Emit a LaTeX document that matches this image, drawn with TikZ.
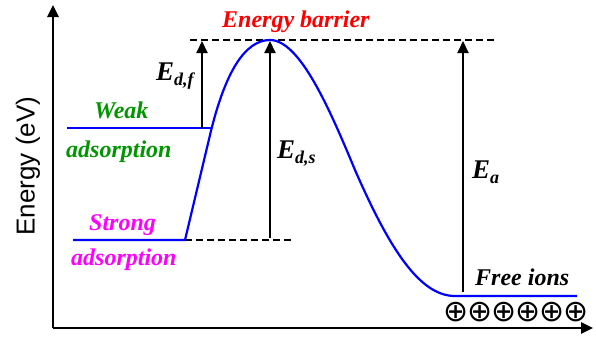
\documentclass[tikz,border=0pt]{standalone}
\usepackage{fontspec}
\setmainfont{Liberation Serif}
\newfontfamily\arialfont{Liberation Sans}
\newfontfamily\symfont{DejaVu Sans}
\usetikzlibrary{arrows.meta}

\definecolor{curveblue}{RGB}{0,0,255}
\definecolor{weakgreen}{RGB}{0,150,0}
\definecolor{strongmag}{RGB}{255,0,255}
\definecolor{barred}{RGB}{255,0,0}

\newcommand\Esub[1]{{\fontsize{27bp}{27bp}\selectfont E}\raisebox{-5bp}{\fontsize{18bp}{18bp}\selectfont #1}}

\begin{document}
\begin{tikzpicture}[x=1bp, y=-1bp, >={Triangle[length=12bp,width=11bp]},
  lab/.style={font=\fontsize{24bp}{24bp}\selectfont\bfseries\itshape, inner sep=0pt, anchor=base west},
  lvl/.style={curveblue, line width=2.2bp},
  guide/.style={line width=2bp, dash pattern=on 7bp off 4bp},
  gap/.style={->, line width=2bp}]
  \useasboundingbox (0,0) rectangle (596,338);

  % axes
  \coordinate (orig) at (53,328);
  \coordinate (ytop) at (53,5);
  \coordinate (xend) at (593,328);
  \draw[->, line width=2.5bp] (orig) -- (ytop);
  \draw[->, line width=2.5bp] (orig) -- (xend);
  \node[font=\arialfont\fontsize{26bp}{26bp}\selectfont, rotate=90] (ylab) at (28,166) {Energy (eV)};

  % levels
  \coordinate (weakL) at (67,128);
  \coordinate (weakR) at (212,128);
  \coordinate (strongL) at (73,240);
  \coordinate (strongR) at (185,240);
  \coordinate (strongD) at (292,240);
  \coordinate (peak) at (270,40);
  \coordinate (barL) at (190,40);
  \coordinate (barR) at (498,40);
  \coordinate (freeL) at (455,296);
  \coordinate (freeR) at (577,296);

  \draw[guide] (barL) -- (barR);
  \draw[guide] (strongR) -- (strongD);
  \draw[lvl] (weakL) -- (weakR);
  \draw[lvl] (strongL) -- (strongR) -- (210,135)
    .. controls (225,72) and (245,40) .. (peak)
    .. controls (300,40) and (330,110) .. (355,170)
    .. controls (390,250) and (420,296) .. (freeL) -- (freeR);

  % energy gaps
  \coordinate (dfB) at (202,128);
  \coordinate (dfT) at (202,41);
  \coordinate (dsB) at (270,238);
  \coordinate (dsT) at (270,41);
  \coordinate (eaB) at (463,292);
  \coordinate (eaT) at (463,41);
  \draw[gap] (dfB) -- (dfT);
  \draw[gap] (dsB) -- (dsT);
  \draw[gap] (eaB) -- (eaT);

  % labels
  \node[lab, barred] (barrier) at (222,27) {Energy barrier};
  \node[lab, weakgreen] (weak) at (94,118) {Weak};
  \node[lab, weakgreen] (weakads) at (66,157) {adsorption};
  \node[lab, strongmag] (strong) at (89,230) {Strong};
  \node[lab, strongmag] (strongads) at (71,265) {adsorption};
  \node[lab] (edf) at (156,80) {\Esub{d,f}};
  \node[lab] (eds) at (277,158) {\Esub{d,s}};
  \node[lab] (ea) at (472,178) {\Esub{a}};
  \node[lab] (free) at (475,285) {Free ions};
  \node[font=\symfont\fontsize{30bp}{30bp}\selectfont, inner sep=0pt] (ions) at (516,312)
    {⊕\kern-1bp⊕\kern-1bp⊕\kern-1bp⊕\kern-1bp⊕\kern-1bp⊕};
\end{tikzpicture}
\end{document}
